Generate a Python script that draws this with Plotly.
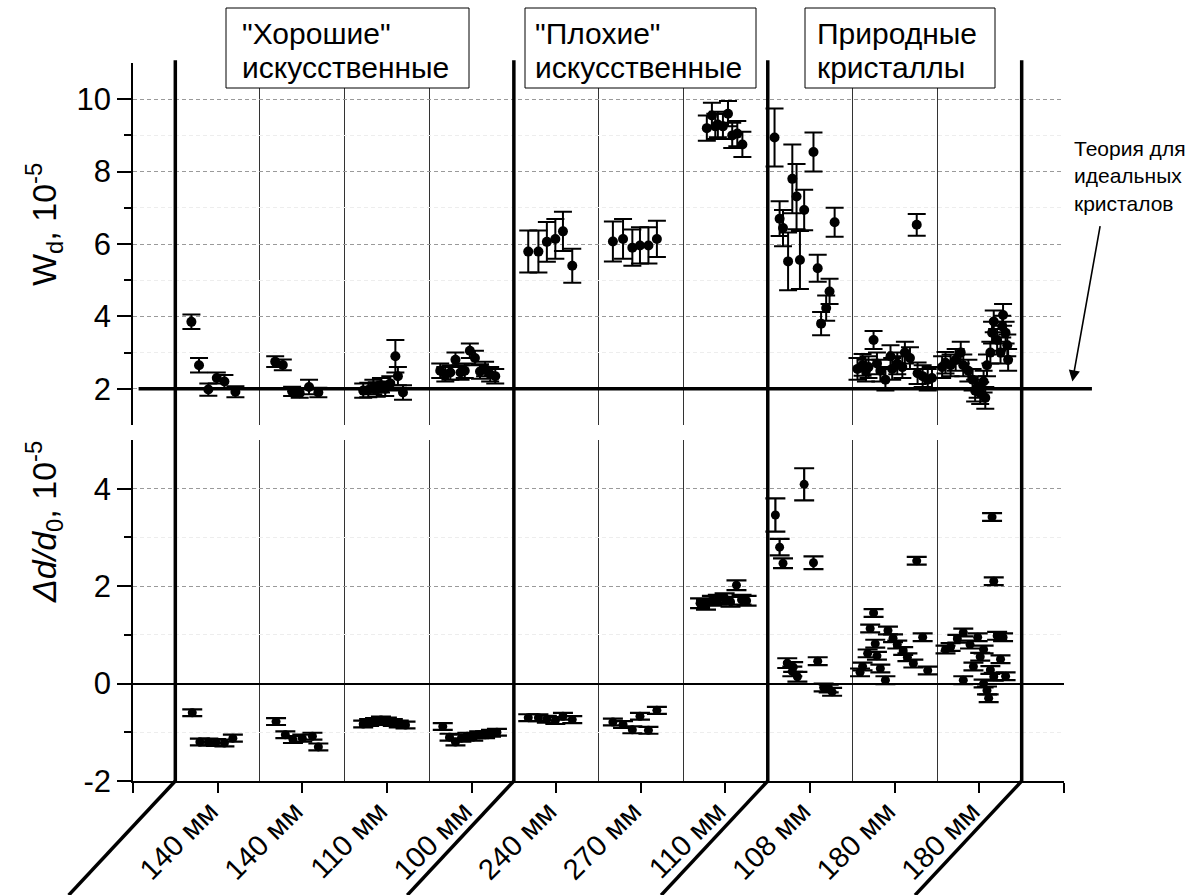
import plotly.graph_objects as go

# ---- categories (crystal size labels along the bottom axis) ----
group_labels = ["140 мм", "140 мм", "110 мм", "100 мм", "240 мм",
                "270 мм", "110 мм", "108 мм", "180 мм", "180 мм"]

# ---- W_d, 10^-5 (upper panel): positions inside groups, values, errors ----
wd_x = [0.69, 0.78, 0.89, 0.99, 1.08, 1.21,
        1.68, 1.77, 1.88, 1.97, 2.08, 2.19,
        2.72, 2.78, 2.84, 2.88, 2.93, 2.98, 3.04, 3.10, 3.13, 3.19,
        3.63, 3.69, 3.75, 3.81, 3.87, 3.92, 3.98, 4.04, 4.10, 4.16, 4.22, 4.28,
        4.67, 4.79, 4.89, 4.99, 5.08, 5.19,
        5.67, 5.79, 5.90, 5.99, 6.09, 6.19,
        6.78, 6.84, 6.88, 6.91, 6.97, 7.03, 7.08, 7.14, 7.20,
        7.58, 7.64, 7.68, 7.74, 7.79, 7.84, 7.88, 7.93, 8.04, 8.09, 8.13, 8.19, 8.23, 8.29,
        8.56, 8.62, 8.66, 8.69, 8.75, 8.79, 8.83, 8.89, 8.95, 8.97, 9.03, 9.09, 9.12,
        9.18, 9.26, 9.27, 9.33, 9.39, 9.44,
        9.56, 9.60, 9.66, 9.72, 9.78, 9.81, 9.87, 9.92, 9.95, 9.98, 10.01, 10.05,
        10.07, 10.09, 10.13, 10.15, 10.17, 10.21, 10.25, 10.27, 10.28, 10.31, 10.33, 10.34]
wd_val = [3.85, 2.65, 1.98, 2.30, 2.20, 1.92,
          2.75, 2.66, 1.93, 1.88, 2.05, 1.90,
          1.95, 1.97, 2.05, 1.98, 2.10, 2.00, 2.15, 2.90, 2.35, 1.90,
          2.50, 2.40, 2.45, 2.80, 2.45, 2.50, 3.05, 2.85, 2.48, 2.55, 2.40, 2.35,
          5.79, 5.79, 6.06, 6.14, 6.35, 5.40,
          6.07, 6.14, 5.90, 5.96, 5.96, 6.14,
          9.20, 9.55, 9.25, 9.30, 9.25, 9.60, 9.00, 9.05, 8.75,
          8.94, 6.70, 6.44, 5.52, 7.80, 7.31, 5.56, 6.94, 8.54, 5.33, 3.80, 4.23, 4.69, 6.60,
          2.55, 2.66, 2.50, 2.60, 3.35, 2.70, 2.50, 2.25, 2.90, 2.55, 2.70, 2.60, 3.00,
          2.85, 6.53, 2.43, 2.35, 2.25, 2.30,
          2.60, 2.72, 2.65, 2.80, 3.00, 2.65, 2.50, 2.25, 1.95, 2.05, 1.88, 2.20,
          1.75, 2.65, 3.00, 3.55, 3.86, 3.35, 3.00, 3.72, 4.04, 3.55, 3.20, 2.80]
wd_err = [0.20, 0.20, 0.17, 0.15, 0.18, 0.15,
          0.15, 0.15, 0.13, 0.13, 0.20, 0.13,
          0.20, 0.20, 0.20, 0.20, 0.20, 0.20, 0.20, 0.45, 0.25, 0.20,
          0.20, 0.20, 0.20, 0.20, 0.20, 0.20, 0.20, 0.20, 0.20, 0.20, 0.20, 0.20,
          0.58, 0.58, 0.55, 0.55, 0.54, 0.47,
          0.55, 0.55, 0.50, 0.50, 0.50, 0.50,
          0.35, 0.35, 0.35, 0.35, 0.35, 0.35, 0.35, 0.35, 0.35,
          0.80, 0.48, 0.50, 0.80, 0.95, 0.90, 0.80, 0.56, 0.54, 0.37, 0.32, 0.35, 0.35, 0.40,
          0.30, 0.30, 0.30, 0.30, 0.25, 0.30, 0.30, 0.30, 0.30, 0.30, 0.30, 0.30, 0.30,
          0.30, 0.30, 0.30, 0.30, 0.30, 0.30,
          0.30, 0.30, 0.30, 0.30, 0.30, 0.30, 0.30, 0.30, 0.30, 0.30, 0.30, 0.30,
          0.30, 0.30, 0.30, 0.30, 0.30, 0.30, 0.30, 0.30, 0.30, 0.30, 0.30, 0.30]

# ---- Δd/d0, 10^-5 (lower panel) ----
dd_x = [0.70, 0.79, 0.89, 0.98, 1.08, 1.18,
        1.69, 1.80, 1.89, 2.00, 2.12, 2.19,
        2.72, 2.79, 2.86, 2.93, 3.00, 3.07, 3.14, 3.22,
        3.66, 3.74, 3.81, 3.88, 3.95, 4.02, 4.09, 4.16, 4.23, 4.30,
        4.67, 4.79, 4.89, 4.99, 5.08, 5.19,
        5.67, 5.79, 5.90, 5.99, 6.09, 6.19,
        6.70, 6.77, 6.84, 6.91, 6.99, 7.06, 7.13, 7.19, 7.25,
        7.59, 7.64, 7.68, 7.73, 7.79, 7.80, 7.85, 7.93, 8.04, 8.09, 8.16, 8.22, 8.26,
        8.59, 8.62, 8.68, 8.71, 8.75, 8.77, 8.79, 8.83, 8.89, 8.92, 8.98, 9.03, 9.10,
        9.15, 9.22, 9.26, 9.33, 9.39,
        9.60, 9.66, 9.74, 9.81, 9.81, 9.89, 9.93, 9.98, 10.01, 10.05, 10.05, 10.09,
        10.11, 10.13, 10.15, 10.17, 10.17, 10.21, 10.25, 10.28, 10.31]
dd_val = [-0.60, -1.20, -1.20, -1.21, -1.22, -1.12,
          -0.78, -1.05, -1.15, -1.12, -1.08, -1.30,
          -0.83, -0.80, -0.78, -0.75, -0.77, -0.80, -0.83, -0.85,
          -0.88, -1.10, -1.20, -1.12, -1.08, -1.10, -1.05, -1.05, -1.02, -1.00,
          -0.70, -0.70, -0.73, -0.76, -0.67, -0.74,
          -0.79, -0.84, -0.95, -0.67, -0.96, -0.55,
          1.65, 1.62, 1.70, 1.72, 1.75, 1.68, 2.02, 1.72, 1.70,
          3.46, 2.80, 2.47, 0.42, 0.25, 0.34, 0.14, 4.09, 2.48, 0.46, -0.08, -0.10, -0.17,
          0.23, 0.35, 0.62, 1.13, 1.45, 0.82, 0.57, 0.31, 0.07, 1.09, 0.93, 0.80, 0.67,
          0.54, 0.41, 2.52, 0.95, 0.27,
          0.70, 0.75, 0.92, 1.05, 0.07, 0.80, 0.35, 0.95, 0.55, 0.00, 0.70, -0.14,
          -0.30, 0.28, 3.42, 2.10, 0.14, 0.98, 0.50, 0.95, 0.15]
dd_err = [0.07] * 42 + [0.10] * 9 + \
         [0.34, 0.17, 0.10, 0.10, 0.10, 0.10, 0.10, 0.33, 0.13, 0.08, 0.08, 0.08, 0.08] + \
         [0.08] * 18 + [0.08] * 21

# ---- axis settings ----
X_RANGE = [0, 11]
WD_RANGE = [1, 11]
DD_RANGE = [-2, 5]
WD_TICKS = [2, 4, 6, 8, 10]
DD_TICKS = [-2, 0, 2, 4]
DD_TICKTEXT = ["-2", "0", "2", "4"]
THEORY_WD = 2.0
boundaries = [i + 0.5 for i in range(11)]
thick_bounds = [0.5, 4.5, 7.5, 10.5]

# ---- panel headings: two lines each, left edge / right edge of frame (px) ----
headings = [('"Хорошие"', "искусственные", 226, 469, 240),
            ('"Плохие"', "искусственные", 525, 756, 533),
            ("Природные", "кристаллы", 805, 995, 815)]

FONT = "Arial, 'Liberation Sans', sans-serif"
W, H = 1188, 895
ML, MR, MT, MB = 133, 124, 63, 114
PW, PH = W - ML - MR, H - MT - MB
TOP_DOMAIN = [0.4958, 1.0]
BOT_DOMAIN = [0.0, 0.4749]


def xfrac(v):
    return (v - X_RANGE[0]) / (X_RANGE[1] - X_RANGE[0])


def yfrac(v, rng):
    return (v - rng[0]) / (rng[1] - rng[0])


def px_to_paper_x(px):
    return (px - ML) / PW


def py_to_paper_y(py):
    return (H - MB - py) / PH


fig = go.Figure()

fig.add_trace(go.Scatter(
    x=wd_x, y=wd_val, mode="markers", xaxis="x", yaxis="y",
    marker=dict(color="black", size=10),
    error_y=dict(type="data", array=wd_err, color="black", thickness=2, width=9),
    showlegend=False))

fig.add_trace(go.Scatter(
    x=dd_x, y=dd_val, mode="markers", xaxis="x2", yaxis="y2",
    marker=dict(color="black", size=9),
    error_y=dict(type="data", array=dd_err, color="black", thickness=2.2, width=10),
    showlegend=False))

minor_x = dict(tickvals=boundaries, showgrid=True, gridcolor="#333333", gridwidth=1.3, ticks="")

fig.update_layout(
    width=W, height=H,
    margin=dict(l=ML, r=MR, t=MT, b=MB, autoexpand=False),
    paper_bgcolor="white", plot_bgcolor="white",
    font=dict(family=FONT, color="black", size=26),
    xaxis=dict(domain=[0, 1], anchor="y", range=X_RANGE, showgrid=False, zeroline=False,
               showticklabels=False, ticks="", showline=False, minor=minor_x),
    yaxis=dict(domain=TOP_DOMAIN, anchor="x", range=WD_RANGE, tickvals=WD_TICKS,
               ticks="outside", ticklen=14, tickwidth=1.5, tickcolor="black",
               showline=True, linewidth=1.5, linecolor="black",
               showgrid=True, gridcolor="#9a9a9a", gridwidth=1, griddash="4px,3px",
               zeroline=False, tickfont=dict(size=31),
               minor=dict(tickvals=[3, 5, 7, 9], ticks="outside", ticklen=7,
                          tickcolor="black", showgrid=True, gridcolor="#ededed", gridwidth=1)),
    xaxis2=dict(domain=[0, 1], anchor="y2", range=X_RANGE,
                tickvals=list(range(0, 12)), ticktext=[""] + group_labels + [""],
                tickangle=-45, ticks="outside", ticklen=10, tickwidth=1.5, tickcolor="black",
                ticklabelstandoff=-10, ticklabelshift=-8,
                showline=True, linewidth=1.5, linecolor="black", showgrid=False,
                zeroline=False, tickfont=dict(size=29), minor=minor_x),
    yaxis2=dict(domain=BOT_DOMAIN, anchor="x2", range=DD_RANGE, tickvals=DD_TICKS,
                ticktext=DD_TICKTEXT,
                ticks="outside", ticklen=14, tickwidth=1.5, tickcolor="black",
                showline=True, linewidth=1.5, linecolor="black",
                showgrid=True, gridcolor="#9a9a9a", gridwidth=1, griddash="4px,3px",
                zeroline=True, zerolinecolor="black", zerolinewidth=1.5,
                tickfont=dict(size=31),
                minor=dict(tickvals=[-1, 1, 3], ticks="outside", ticklen=7,
                           tickcolor="black", showgrid=True, gridcolor="#ededed", gridwidth=1)),
)

shapes = []
# theory level for ideal crystals (thick line across the upper panel)
shapes.append(dict(type="line", xref="x domain", yref="y domain",
                   x0=0.006, x1=1.03, y0=yfrac(THEORY_WD, WD_RANGE), y1=yfrac(THEORY_WD, WD_RANGE),
                   line=dict(color="black", width=3.5)))
# thick separators between crystal families, with slanted feet
for b in thick_bounds:
    shapes.append(dict(type="line", xref="x domain", yref="paper",
                       x0=xfrac(b), x1=xfrac(b), y0=0, y1=1.004,
                       line=dict(color="black", width=3.5)))
    shapes.append(dict(type="line", xref="x2 domain", yref="paper",
                       x0=xfrac(b), x1=xfrac(b - 1.26), y0=0, y1=-0.159,
                       line=dict(color="black", width=3.5)))
# framed headings
for l1, l2, x0, x1, tx in headings:
    shapes.append(dict(type="rect", xref="paper", yref="paper",
                       x0=px_to_paper_x(x0), x1=px_to_paper_x(x1),
                       y0=py_to_paper_y(88), y1=py_to_paper_y(8),
                       line=dict(color="black", width=1), fillcolor="white"))
fig.update_layout(shapes=shapes)

for l1, l2, x0, x1, tx in headings:
    for txt, cy in ((l1, 34), (l2, 67)):
        fig.add_annotation(text=txt, xref="paper", yref="paper",
                           x=px_to_paper_x(tx), y=py_to_paper_y(cy),
                           xanchor="left", yanchor="middle", showarrow=False,
                           font=dict(size=30))

fig.add_annotation(text="Теория для<br>идеальных<br>кристалов", xref="paper", yref="paper",
                   x=1.009, y=0.9, xanchor="left", yanchor="top", align="left",
                   showarrow=False, font=dict(size=21))
fig.add_annotation(text="", xref="paper", yref="y", x=1.009, y=THEORY_WD + 0.2,
                   ax=28, ay=-157, showarrow=True, arrowhead=2, arrowsize=1.4,
                   arrowwidth=1.6, arrowcolor="black")

fig.add_annotation(text="W<sub>d</sub>, 10<sup>-5</sup>", xref="paper", yref="paper",
                   x=px_to_paper_x(44), y=py_to_paper_y(225), textangle=-90, showarrow=False,
                   xanchor="center", yanchor="middle", font=dict(size=34))
fig.add_annotation(text="<i>Δd/d</i><sub>0</sub>, 10<sup>-5</sup>", xref="paper", yref="paper",
                   x=px_to_paper_x(44), y=py_to_paper_y(522), textangle=-90, showarrow=False,
                   xanchor="center", yanchor="middle", font=dict(size=34))

fig.write_html("out.html")
